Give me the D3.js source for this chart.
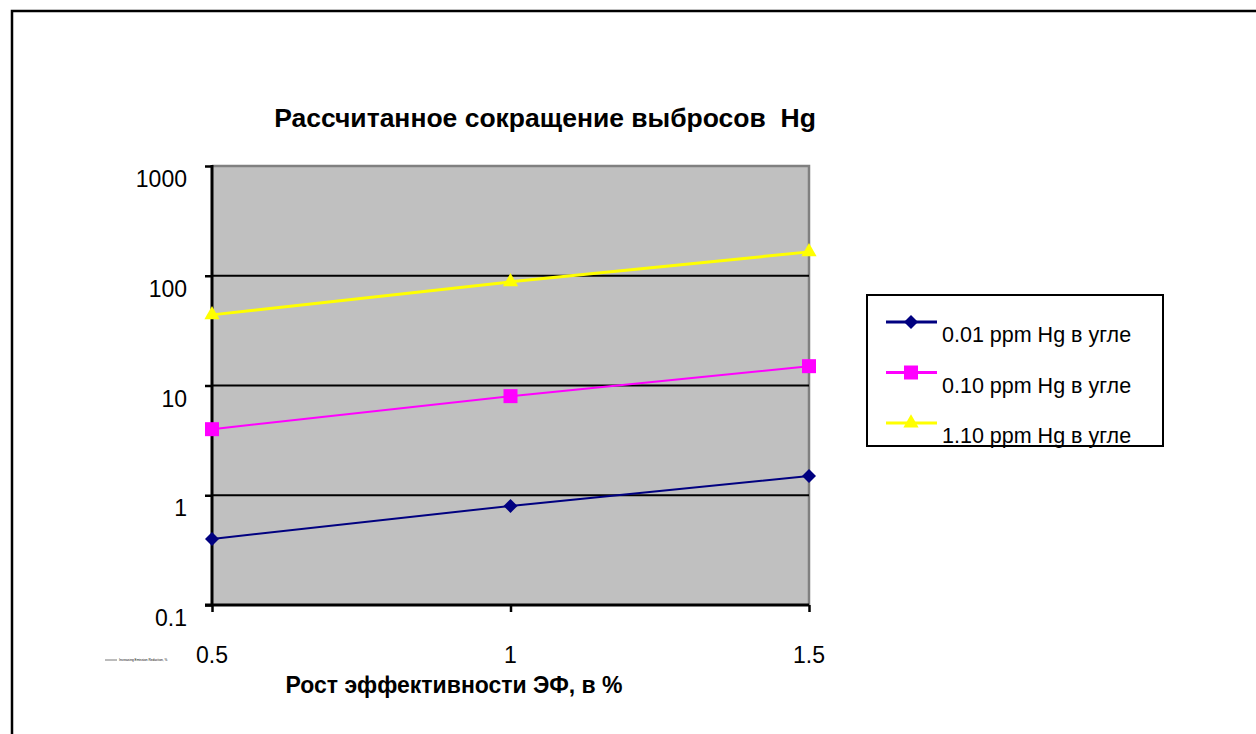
<!DOCTYPE html>
<html>
<head>
<meta charset="utf-8">
<script src="https://cdn.jsdelivr.net/npm/d3@7"></script>
<style>
  html, body { margin: 0; padding: 0; background: #ffffff; }
  svg { display: block; }
  text { font-family: "Liberation Sans", Arial, sans-serif; fill: #000; white-space: pre; }
</style>
</head>
<body>
<svg id="chart" width="1256" height="734"></svg>
<script>
const xValues = [0.5, 1, 1.5];
const xTickLabels = ["0.5", "1", "1.5"];
const yTickValues = [0.1, 1, 10, 100, 1000];
const yTickLabels = ["0.1", "1", "10", "100", "1000"];
const seriesNames = ["0.01 ppm Hg в угле", "0.10 ppm Hg в угле", "1.10 ppm Hg в угле"];
const series001 = [0.4, 0.8, 1.5];
const series010 = [4, 8, 15];
const series110 = [44, 88, 165];
const chartTitle = "Рассчитанное сокращение выбросов  Hg";
const xAxisTitle = "Рост эффективности ЭФ, в %";

(function () {
const seriesList = [
  { name: seriesNames[0], values: series001, color: "#000080", marker: d3.symbolDiamond2, size: 125, width: 2 },
  { name: seriesNames[1], values: series010, color: "#ff00ff", marker: d3.symbolSquare, size: 196, width: 2 },
  { name: seriesNames[2], values: series110, color: "#ffff00", marker: d3.symbolTriangle, size: 100, width: 3 }
];

const svg = d3.select("#chart");

svg.append("rect").attr("x", 12).attr("y", 11).attr("width", 1300).attr("height", 800)
  .attr("fill", "none").attr("stroke", "#000").attr("stroke-width", 2.5);

const pL = 212, pR = 809, pT = 166, pB = 605;
const x = d3.scaleLinear().domain([0.5, 1.5]).range([pL, pR]);
const y = d3.scaleLog().domain([0.1, 1000]).range([pB, pT]);

svg.append("rect").attr("x", pL).attr("y", pT).attr("width", pR - pL).attr("height", pB - pT)
  .attr("fill", "#c0c0c0");
svg.append("path").attr("d", `M${pL},${pT}H${pR}V${pB}`)
  .attr("fill", "none").attr("stroke", "#808080").attr("stroke-width", 2.5);

svg.append("g").selectAll("line").data(yTickValues.filter(v => v > 0.1 && v < 1000)).join("line")
  .attr("x1", pL).attr("x2", pR).attr("y1", d => y(d)).attr("y2", d => y(d))
  .attr("stroke", "#000").attr("stroke-width", 2);

const yAxis = d3.axisLeft(y).tickValues(yTickValues).tickSize(7).tickFormat("");
const gy = svg.append("g").attr("transform", `translate(${pL},0)`).call(yAxis);
gy.select(".domain").attr("stroke", "#000").attr("stroke-width", 3).attr("d", `M0,${pT-1}V${pB+1}`);
gy.selectAll(".tick line").attr("stroke", "#000").attr("stroke-width", 2.5);
svg.append("g").selectAll("text").data(yTickValues).join("text")
  .attr("x", 187).attr("y", d => y(d) + 21).attr("text-anchor", "end")
  .attr("font-size", 23).text((d, i) => yTickLabels[i]);

const xAxis = d3.axisBottom(x).tickValues(xValues).tickSize(7).tickFormat("");
const gx = svg.append("g").attr("transform", `translate(0,${pB})`).call(xAxis);
gx.select(".domain").attr("stroke", "#000").attr("stroke-width", 3).attr("d", `M${pL-7},0H${pR}`);
gx.selectAll(".tick line").attr("stroke", "#000").attr("stroke-width", 2.5);
svg.append("g").selectAll("text").data(xValues).join("text")
  .attr("x", d => x(d)).attr("y", 663).attr("text-anchor", "middle")
  .attr("font-size", 23).text((d, i) => xTickLabels[i]);

const line = d3.line().x((d, i) => x(xValues[i])).y(d => y(d));
seriesList.forEach(s => {
  svg.append("path").datum(s.values).attr("d", line)
    .attr("fill", "none").attr("stroke", s.color).attr("stroke-width", s.width);
  svg.append("g").selectAll("path").data(s.values).join("path")
    .attr("transform", (d, i) => `translate(${x(xValues[i])},${y(d)})`)
    .attr("d", d3.symbol().type(s.marker).size(s.size))
    .attr("fill", s.color);
});

svg.append("text").attr("x", 545).attr("y", 127).attr("text-anchor", "middle")
  .attr("font-size", 26.5).attr("font-weight", "bold").text(chartTitle);
svg.append("text").attr("x", 454).attr("y", 693).attr("text-anchor", "middle")
  .attr("font-size", 23).attr("font-weight", "bold").text(xAxisTitle);

svg.append("line").attr("x1", 105).attr("x2", 117).attr("y1", 660).attr("y2", 660)
  .attr("stroke", "#555").attr("stroke-width", 0.8);
svg.append("text").attr("x", 119).attr("y", 661).attr("font-size", 3.2).attr("fill", "#555")
  .text("Increasing Emission Reduction, %");

const lg = svg.append("g");
lg.append("rect").attr("x", 867).attr("y", 295).attr("width", 296).attr("height", 151)
  .attr("fill", "#fff").attr("stroke", "#000").attr("stroke-width", 2);
seriesList.forEach((s, i) => {
  const ly = 322 + i * 50.5;
  lg.append("line").attr("x1", 886).attr("x2", 937).attr("y1", ly).attr("y2", ly)
    .attr("stroke", s.color).attr("stroke-width", 3);
  lg.append("path").attr("transform", `translate(911,${ly})`)
    .attr("d", d3.symbol().type(s.marker).size(s.size)).attr("fill", s.color);
  lg.append("text").attr("x", 942).attr("y", ly + 20).attr("font-size", 21.5).text(s.name);
});
})();
</script>
</body>
</html>
